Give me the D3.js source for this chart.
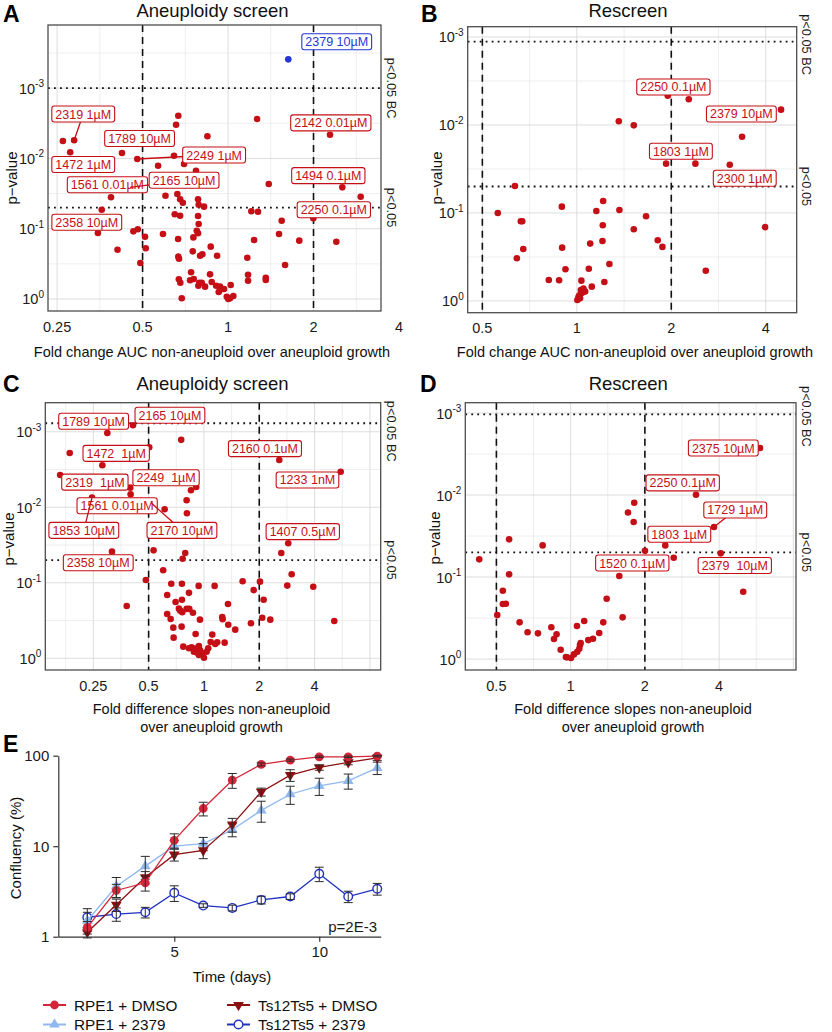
<!DOCTYPE html>
<html><head><meta charset="utf-8">
<script src="https://cdn.jsdelivr.net/npm/d3@7"></script>
<style>body{margin:0;background:#fff;} svg{display:block;font-family:"Liberation Sans",Arial,Helvetica,sans-serif;}</style>
</head><body><svg id="fig" width="832" height="1032"></svg>
<script>
// ===================== DATA =====================
// Panel A: Aneuploidy screen, fold change AUC vs p-value
const aFold = [0.262,0.287,0.278,0.668,0.656,0.846,1.265,2.286,0.423,0.479,
 0.645,0.567,0.700,0.771,1.391,2.526,2.932,0.387,0.602,0.663,
 0.678,0.693,0.784,0.788,0.823,0.359,0.649,0.678,0.784,1.208,
 1.275,1.545,1.997,0.788,0.348,0.464,0.481,0.510,0.590,0.776,
 0.784,0.755,0.667,1.235,1.512,1.782,2.406,0.408,0.513,0.751,
 0.869,0.797,0.812,0.668,0.915,1.169,0.672,0.491,1.588,0.741,
 0.864,1.176,1.358,1.358,1.176,0.671,0.679,0.735,0.757,0.792,
 0.786,0.808,0.830,0.876,0.908,0.937,0.968,0.927,1.022,0.687,
 0.990,1.016,1.044,1.002,0.947,0.452];
const aP = [5.66e-3,5.53e-3,8.19e-3,2.47e-3,3.32e-3,4.85e-3,2.75e-3,4.6e-3,8.38e-3,0.0102,
 9.16e-3,0.0127,0.0120,0.0150,0.0231,0.0258,0.0351,0.0357,0.0339,0.0321,
 0.0382,0.0427,0.0382,0.0456,0.0486,0.0537,0.0624,0.0653,0.066,0.0565,
 0.0573,0.0769,0.0711,0.0857,0.115,0.109,0.102,0.130,0.119,0.107,
 0.116,0.133,0.140,0.145,0.119,0.148,0.153,0.199,0.190,0.210,
 0.180,0.242,0.231,0.250,0.242,0.259,0.267,0.308,0.328,0.417,
 0.446,0.451,0.498,0.537,0.549,0.525,0.586,0.542,0.520,0.586,
 0.647,0.586,0.668,0.573,0.647,0.668,0.721,0.795,0.632,0.977,
 0.927,0.977,0.906,1.0,0.728,0.0259];
const aHiFold = [1.63];
const aHiP = [3.9e-4];
const aLabelText = ["2379 10µM","2319 1µM","1789 10µM","2249 1µM","1472 1µM","1561 0.01µM","2165 10µM","2142 0.01µM","1494 0.1µM","2250 0.1µM","2358 10µM"];
const aLabelHi = [true,false,false,false,false,false,false,false,false,false,false];

// Panel B: Rescreen, fold change AUC
const bFold = [1.949,2.274,4.475,1.361,1.519,3.362,1.925,2.387,3.072,0.635,
 0.560,0.663,0.896,1.154,1.213,1.367,1.210,1.662,1.519,3.98,
 0.675,0.898,1.103,1.207,1.811,1.874,0.644,1.270,0.920,1.092,
 2.576,0.814,0.878,1.034,1.224,1.116,1.030,1.050,1.037,1.019,
 1.004,1.024,1.063,1.012,0.670];
const bP = [4.65e-3,5.1e-3,6.7e-3,9.08e-3,0.0101,0.0136,0.0275,0.0275,0.0283,0.0493,
 0.100,0.124,0.0848,0.0949,0.0731,0.0925,0.138,0.109,0.153,0.145,
 0.257,0.248,0.223,0.208,0.204,0.243,0.327,0.380,0.436,0.430,
 0.453,0.577,0.582,0.588,0.608,0.688,0.750,0.725,0.811,0.861,
 0.975,0.932,0.783,0.901,0.124];
const bLabelText = ["2250 0.1µM","2379 10µM","1803 1µM","2300 1µM"];

// Panel C: Aneuploidy screen, fold difference slopes
const cFold = [0.411,0.298,0.504,0.752,0.186,0.280,2.570,5.548,0.165,0.397,
 0.399,0.850,0.908,0.805,0.246,0.611,0.808,0.626,2.876,2.635,
 0.316,0.532,0.791,0.766,0.600,3.002,0.483,0.664,0.759,1.624,
 2.018,0.936,1.143,2.841,3.934,0.829,0.631,1.865,0.759,0.701,
 2.113,1.351,0.380,0.731,0.805,0.832,0.743,0.871,0.762,0.631,
 0.659,0.951,1.258,1.264,1.356,1.480,1.802,2.076,2.296,5.12,
 0.681,0.756,0.684,0.901,1.110,1.088,1.152,1.181,1.296,0.772,
 0.829,0.857,0.882,0.913,0.939,0.951,0.979,1.0,1.034,1.055,
 0.939,0.920,0.519];
const cP = [8.2e-4,1.04e-3,1.6e-3,1.28e-3,1.91e-3,2.78e-3,2.36e-3,3.38e-3,3.73e-3,5.5e-3,
 6.73e-3,5.96e-3,5.38e-3,8.08e-3,7.46e-3,0.0106,0.0120,0.0238,0.0300,0.0403,
 0.0387,0.0372,0.0403,0.048,0.0683,0.0771,0.0918,0.103,0.103,0.0955,
 0.0966,0.110,0.110,0.109,0.113,0.136,0.145,0.125,0.168,0.180,
 0.168,0.191,0.203,0.220,0.222,0.222,0.234,0.249,0.246,0.259,
 0.302,0.308,0.284,0.304,0.359,0.418,0.344,0.290,0.308,0.321,
 0.393,0.381,0.533,0.477,0.486,0.608,0.647,0.614,0.621,0.702,
 0.738,0.715,0.818,0.738,0.687,0.776,0.859,0.982,0.818,0.738,
 0.904,0.843,8.87e-3];
const cLabelText = ["1789 10µM","2165 10µM","1472  1µM","2160 0.1uM","2319  1µM","2249  1µM","1233 1nM","1561 0.01µM","1853 10µM","2170 10µM","1407 0.5µM","2358 10µM"];

// Panel D: Rescreen, fold difference slopes
const dFold = [5.86,3.224,1.811,1.708,1.801,3.814,0.563,0.770,2.420,2.002,
 2.618,4.06,0.426,1.575,0.563,0.531,5.01,1.400,0.531,0.546,
 0.504,1.625,0.621,1.061,1.135,1.356,0.835,0.669,0.737,0.877,
 0.856,1.306,1.179,1.232,1.091,1.084,1.098,0.911,0.957,0.966,
 1.003,1.031,1.064];
const dP = [2.67e-3,9.91e-3,0.0124,0.0163,0.0213,0.0245,0.0347,0.0411,0.0411,0.0478,
 0.0582,0.0514,0.0608,0.0973,0.0927,0.147,0.151,0.184,0.213,0.212,
 0.291,0.310,0.357,0.396,0.344,0.357,0.410,0.472,0.486,0.500,
 0.570,0.482,0.587,0.565,0.675,0.748,0.638,0.770,0.946,0.953,
 0.972,0.877,0.815];
const dLabelText = ["2375 10µM","2250 0.1µM","1729 1µM","1803 1µM","1520 0.1µM","2379  10µM"];

// Shared tick labels
const xTicksAC = [0.25,0.5,1,2,4];
const xTickLabelsAC = ["0.25","0.5","1","2","4"];
const xTicksBD = [0.5,1,2,4];
const xTickLabelsBD = ["0.5","1","2","4"];
const yTicksP = [1e-3,1e-2,1e-1,1];
const yTickExp = ["-3","-2","-1","0"];

// Panel E: growth curves
const days = [2,3,4,5,6,7,8,9,10,11,12];
const rpe1Dmso    = [1.27,3.24,3.94,11.6,26.1,53.6,80.1,89.4,97.3,97.3,99.0];
const rpe1DmsoSem = [0.2,0.55,0.75,2.1,4.5,10,3,2.5,2,2,2];
const ts12Dmso    = [1.12,2.25,4.54,8.05,8.98,17.3,39.8,61,74.1,84.3,94.8];
const ts12DmsoSem = [0.15,0.35,0.7,1.2,1.7,3,4,9,5,5,6];
const rpe1Cpd     = [1.50,3.61,6.02,10.0,10.7,15.2,24.9,37.5,46.4,52.7,73.4];
const rpe1CpdSem  = [0.36,0.9,1.7,1.5,1.8,2.5,6.5,8.5,10,10,11.5];
const ts12Cpd     = [1.64,1.78,1.86,3.05,2.21,2.08,2.55,2.78,4.96,2.78,3.38];
const ts12CpdSem  = [0.4,0.3,0.25,0.6,0.1,0.15,0.25,0.2,0.9,0.4,0.5];
const seriesNames = ["RPE1 + DMSO","RPE1 + 2379","Ts12Ts5 + DMSO","Ts12Ts5 + 2379"];
const yTicksE = [1,10,100];
const xTicksE = [5,10];

// ===================== LAYOUT / STYLE =====================
const RED = '#c50f16', BLUE = '#2437d6', INK = '#1a1a1a';
const svg = d3.select('#fig');

function drawScatter(cfg) {
  const {l,t,r,b} = cfg.rect;
  const g = svg.append('g');
  const x = d3.scaleLog().base(2).domain(cfg.xDomain).range([l,r]);
  const y = d3.scaleLog().base(10).domain(cfg.yDomain).range([t,b]);
  const xGrid = d3.range(-8,9).map(k=>Math.pow(2,k/2)).filter(v=>v>=cfg.xDomain[0]&&v<=cfg.xDomain[1]);
  const yGrid = d3.range(-8,2).map(k=>Math.pow(10,k/2)).filter(v=>v>=cfg.yDomain[0]&&v<=cfg.yDomain[1]);
  const isInt = v => Math.abs(v-Math.round(v))<1e-6;
  g.append('g').selectAll('line').data(xGrid).join('line')
    .attr('x1',d=>x(d)).attr('x2',d=>x(d)).attr('y1',t).attr('y2',b)
    .attr('stroke',d=>isInt(Math.log2(d))?'#d9d9d9':'#e6e6e6').attr('stroke-width',d=>isInt(Math.log2(d))?0.9:0.7);
  g.append('g').selectAll('line').data(yGrid).join('line')
    .attr('y1',d=>y(d)).attr('y2',d=>y(d)).attr('x1',l).attr('x2',r)
    .attr('stroke',d=>isInt(Math.log10(d))?'#d9d9d9':'#e6e6e6').attr('stroke-width',d=>isInt(Math.log10(d))?0.9:0.7);
  // thresholds
  [cfg.bc,0.05].forEach(v=>{
    g.append('line').attr('x1',l).attr('x2',r).attr('y1',y(v)).attr('y2',y(v))
      .attr('stroke','#111').attr('stroke-width',1.8).attr('stroke-dasharray','1.8,4.2');
  });
  [0.5,2].forEach(v=>{
    g.append('line').attr('x1',x(v)).attr('x2',x(v)).attr('y1',t).attr('y2',b)
      .attr('stroke','#111').attr('stroke-width',1.6).attr('stroke-dasharray','7,5');
  });
  // points
  g.append('g').selectAll('circle').data(d3.zip(cfg.fold,cfg.p)).join('circle')
    .attr('cx',d=>x(d[0])).attr('cy',d=>y(d[1])).attr('r',3.3).attr('fill',RED);
  if (cfg.hiFold) {
    g.append('g').selectAll('circle').data(d3.zip(cfg.hiFold,cfg.hiP)).join('circle')
      .attr('cx',d=>x(d[0])).attr('cy',d=>y(d[1])).attr('r',3.3).attr('fill',BLUE);
  }
  // labels
  cfg.labels.forEach((lab,i)=>{
    const col = (cfg.labelHi && cfg.labelHi[i]) ? BLUE : RED;
    const lg = g.append('g');
    const cx = x(lab.fold), cy = y(lab.p);
    if (lab.link) {
      lg.append('line').attr('x1',cx).attr('y1',cy).attr('x2',x(lab.link[0])).attr('y2',y(lab.link[1]))
        .attr('stroke',col).attr('stroke-width',1.3);
    }
    const rect = lg.append('rect');
    const txt = lg.append('text').attr('x',cx).attr('y',cy).attr('dy','0.36em')
      .attr('text-anchor','middle').attr('font-size',12.5).attr('fill',col)
      .style('white-space','pre').text(cfg.labelText[i]);
    const w = txt.node().getComputedTextLength()+7, h = 16;
    rect.attr('x',cx-w/2).attr('y',cy-h/2).attr('width',w).attr('height',h)
      .attr('rx',2.5).attr('fill','#fff').attr('stroke',col).attr('stroke-width',1.1);
  });
  // border
  g.append('rect').attr('x',l).attr('y',t).attr('width',r-l).attr('height',b-t)
    .attr('fill','none').attr('stroke','#4d4d4d').attr('stroke-width',1.3);
  // x tick labels
  g.append('g').selectAll('text').data(cfg.xTicks).join('text')
    .attr('x',d=>x(d)).attr('y',b+20.5).attr('text-anchor','middle').attr('font-size',14.5).attr('fill',INK)
    .text((d,i)=>cfg.xTickLabels[i]);
  // y tick labels
  const yt = g.append('g').selectAll('text').data(yTicksP).join('text')
    .attr('x',l-4).attr('y',d=>y(d)+5.5).attr('text-anchor','end').attr('font-size',14.5).attr('fill',INK);
  yt.append('tspan').text('10');
  yt.append('tspan').attr('dy',-6.5).attr('font-size',10).text((d,i)=>yTickExp[i]);
  // right labels
  [[cfg.bc,'p<0.05 BC',cfg.bcDy],[0.05,'p<0.05',0]].forEach(([v,s,dy])=>{
    g.append('text').attr('transform',`translate(${cfg.rightX},${y(v)+dy}) rotate(90)`)
      .attr('text-anchor','middle').attr('dy','0.35em').attr('font-size',12.8).attr('fill',INK).text(s);
  });
  // titles
  g.append('text').attr('x',cfg.titleX).attr('y',cfg.titleY).attr('text-anchor','middle')
    .attr('font-size',18.5).attr('fill','#111').text(cfg.title);
  g.append('text').attr('x',cfg.letterX).attr('y',cfg.letterY).attr('font-size',23).attr('font-weight','bold')
    .attr('fill','#000').text(cfg.letter);
  g.append('text').attr('transform',`translate(${cfg.yTitle[0]},${cfg.yTitle[1]}) rotate(-90)`)
    .attr('text-anchor','middle').attr('dy','0.35em').attr('font-size',15).attr('fill','#111').text('p\u2212value');
  cfg.xTitle.forEach((s,i)=>{
    g.append('text').attr('x',cfg.xTitleX).attr('y',cfg.xTitleY+i*18.5).attr('text-anchor','middle')
      .attr('font-size',14.5).attr('fill','#111').text(s);
  });
}

drawScatter({
  rect:{l:48,t:25,r:381,b:311}, xDomain:[0.2322,3.457], yDomain:[1.265e-4,1.482], bc:1e-3, bcDy:0,
  fold:aFold, p:aP, hiFold:aHiFold, hiP:aHiP, labelText:aLabelText, labelHi:aLabelHi,
  labels:[
    {fold:2.414,p:2.19e-4},
    {fold:0.309,p:2.34e-3,link:[0.287,5.53e-3]},
    {fold:0.488,p:5.21e-3},
    {fold:0.893,p:8.95e-3,link:[0.479,0.0102]},
    {fold:0.309,p:0.0122},
    {fold:0.376,p:0.0237},
    {fold:0.700,p:0.0205,link:[0.452,0.0259]},
    {fold:2.301,p:3.12e-3},
    {fold:2.255,p:0.0176},
    {fold:2.358,p:0.0538},
    {fold:0.318,p:0.0809}],
  xTicks:xTicksAC, xTickLabels:xTickLabelsAC, rightX:391,
  title:'Aneuploidy screen', titleX:212.5, titleY:16.5, letter:'A', letterX:3, letterY:22,
  yTitle:[12,178], xTitle:['Fold change AUC non-aneuploid over aneuploid growth'], xTitleX:212, xTitleY:357
});
drawScatter({
  rect:{l:467.7,t:26.7,r:796.7,b:312.7}, xDomain:[0.449,5.02], yDomain:[7.64e-4,1.36], bc:1.13e-3, bcDy:3,
  fold:bFold, p:bP, labelText:bLabelText,
  labels:[
    {fold:2.031,p:3.70e-3},
    {fold:3.345,p:7.5e-3},
    {fold:2.146,p:0.0199},
    {fold:3.429,p:0.0403}],
  xTicks:xTicksBD, xTickLabels:xTickLabelsBD, rightX:806,
  title:'Rescreen', titleX:628, titleY:16.5, letter:'B', letterX:421, letterY:22,
  yTitle:[437,178], xTitle:['Fold change AUC non-aneuploid over aneuploid growth'], xTitleX:635, xTitleY:357
});
drawScatter({
  rect:{l:45.3,t:402.7,r:380.7,b:670}, xDomain:[0.137,9.16], yDomain:[4.12e-4,1.43], bc:7.71e-4, bcDy:8,
  fold:cFold, p:cP, labelText:cLabelText,
  labels:[
    {fold:0.251,p:7.26e-4},
    {fold:0.653,p:6.04e-4},
    {fold:0.333,p:1.93e-3},
    {fold:2.148,p:1.67e-3},
    {fold:0.255,p:4.65e-3},
    {fold:0.622,p:4.06e-3},
    {fold:3.660,p:4.35e-3},
    {fold:0.337,p:9.55e-3},
    {fold:0.222,p:0.0202,link:[0.246,7.46e-3]},
    {fold:0.759,p:0.0202,link:[0.519,8.87e-3]},
    {fold:3.450,p:0.0210},
    {fold:0.266,p:0.0543}],
  xTicks:xTicksAC, xTickLabels:xTickLabelsAC, rightX:391,
  title:'Aneuploidy screen', titleX:212.5, titleY:389.5, letter:'C', letterX:3, letterY:392,
  yTitle:[9,539], xTitle:['Fold difference slopes non-aneuploid','over aneuploid growth'], xTitleX:211.5, xTitleY:713.5
});
drawScatter({
  rect:{l:465.3,t:402.7,r:796,b:670}, xDomain:[0.374,8.2], yDomain:[7.48e-4,1.36], bc:1.04e-3, bcDy:2,
  fold:dFold, p:dP, labelText:dLabelText,
  labels:[
    {fold:4.16,p:2.67e-3},
    {fold:2.847,p:7.1e-3},
    {fold:4.65,p:0.0152,link:[3.814,0.0245]},
    {fold:2.758,p:0.0301},
    {fold:1.778,p:0.0675},
    {fold:4.63,p:0.0724}],
  xTicks:xTicksBD, xTickLabels:xTickLabelsBD, rightX:806,
  title:'Rescreen', titleX:628.3, titleY:389.5, letter:'D', letterX:420, letterY:392,
  yTitle:[435,538], xTitle:['Fold difference slopes non-aneuploid','over aneuploid growth'], xTitleX:633, xTitleY:713.5
});

// ===================== PANEL E =====================
(function(){
  const g = svg.append('g');
  const x = d3.scaleLinear().domain([1,12.12]).range([58.3,380.7]);
  const y = d3.scaleLog().domain([1,100]).range([936.7,755.7]);
  const series = [
    {name:seriesNames[3], v:ts12Cpd, e:ts12CpdSem, color:'#2131c4', shape:'open'},
    {name:seriesNames[1], v:rpe1Cpd, e:rpe1CpdSem, color:'#8fb8ee', shape:'up'},
    {name:seriesNames[2], v:ts12Dmso, e:ts12DmsoSem, color:'#8c0f12', shape:'down'},
    {name:seriesNames[0], v:rpe1Dmso, e:rpe1DmsoSem, color:'#d42638', shape:'circle'}
  ];
  function marker(sel, s, cx, cy) {
    if (s.shape==='circle') sel.append('circle').attr('cx',cx).attr('cy',cy).attr('r',4.4).attr('fill',s.color);
    else if (s.shape==='open') sel.append('circle').attr('cx',cx).attr('cy',cy).attr('r',4.3).attr('fill','#fff').attr('stroke',s.color).attr('stroke-width',1.4);
    else sel.append('path').attr('d',d3.symbol().type(d3.symbolTriangle).size(50)())
      .attr('transform',`translate(${cx},${cy})${s.shape==='down'?' rotate(180)':''}`).attr('fill',s.color);
  }
  const line = d3.line().x((d,i)=>x(days[i])).y(d=>y(d));
  series.forEach(s=>{
    g.append('path').attr('d',line(s.v)).attr('fill','none').attr('stroke',s.color).attr('stroke-width',1.3);
    s.v.forEach((v,i)=>marker(g,s,x(days[i]),y(v)));
    const eg = g.append('g').attr('stroke','#2a2a2a').attr('stroke-width',1);
    s.v.forEach((v,i)=>{
      const cx = x(days[i]), y1 = y(v+s.e[i]), y2 = y(Math.max(v-s.e[i],0.5));
      eg.append('line').attr('x1',cx).attr('x2',cx).attr('y1',y1).attr('y2',y2);
      eg.append('line').attr('x1',cx-4.5).attr('x2',cx+4.5).attr('y1',y1).attr('y2',y1);
      eg.append('line').attr('x1',cx-4.5).attr('x2',cx+4.5).attr('y1',y2).attr('y2',y2);
    });
  });
  // axes
  const ax = g.append('g').attr('transform','translate(0,936.7)')
    .call(d3.axisBottom(x).tickValues(xTicksE).tickSize(5).tickSizeOuter(0).tickPadding(5).tickFormat(d3.format('d')));
  const ay = g.append('g').attr('transform','translate(58.3,0)')
    .call(d3.axisLeft(y).tickValues(yTicksE).tickSize(5).tickSizeOuter(0).tickPadding(4).tickFormat(d3.format('d')));
  [ax,ay].forEach(a=>{
    a.select('.domain').attr('stroke','#333').attr('stroke-width',1.2);
    a.selectAll('.tick line').attr('stroke','#333').attr('stroke-width',1.2);
    a.selectAll('.tick text').attr('font-size',15).attr('fill',INK).attr('font-family','"Liberation Sans",Arial,sans-serif');
  });
  g.append('text').attr('x',377).attr('y',932).attr('text-anchor','end').attr('font-size',15).attr('fill',INK).text('p=2E-3');
  g.append('text').attr('x',232).attr('y',982).attr('text-anchor','middle').attr('font-size',15).attr('fill','#111').text('Time (days)');
  g.append('text').attr('transform','translate(16,848) rotate(-90)').attr('text-anchor','middle').attr('dy','0.35em')
    .attr('font-size',15).attr('fill','#111').text('Confluency (%)');
  g.append('text').attr('x',3).attr('y',752).attr('font-size',23).attr('font-weight','bold').text('E');
  // legend
  const legPos = [[43,1005],[43,1024.5],[227,1005],[227,1024.5]];
  const legOrder = [series[3],series[1],series[2],series[0]];
  legOrder.forEach((s,i)=>{
    const [lx,ly] = legPos[i];
    g.append('line').attr('x1',lx).attr('x2',lx+23).attr('y1',ly).attr('y2',ly).attr('stroke',s.color).attr('stroke-width',2);
    marker(g,s,lx+11.5,ly);
    g.append('text').attr('x',lx+31).attr('y',ly).attr('dy','0.36em').attr('font-size',15.3).attr('fill','#111').text(s.name);
  });
})();
</script></body></html>
